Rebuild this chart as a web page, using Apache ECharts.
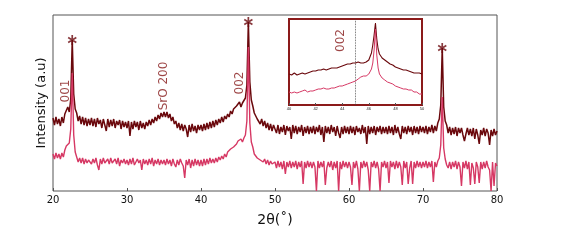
<!DOCTYPE html>
<html><head><meta charset="utf-8">
<script src="https://cdn.jsdelivr.net/npm/echarts@6/dist/echarts.min.js"></script>
<style>html,body{margin:0;padding:0;background:#fff}#c{width:562px;height:241px}</style>
</head><body><div id="c"></div>
<script>
// Main pattern: 2θ from 20 to 80, sampled every 0.2°
const mainStart = 20, mainStep = 0.2;
const darkPattern = [
 73,66,74,67,72,65,74,68,77,75,84,79,92,151,97,82,78,70,75,67,74,66,73,65,72,
 66,73,65,72,64,73,67,71,63,72,66,60,72,64,71,65,72,63,70,66,71,62,70,64,69,
 63,70,55,69,62,70,64,69,61,70,63,68,62,69,65,71,66,72,68,74,70,76,72,78,74,
 79,74,79,73,77,70,74,67,70,63,68,61,67,60,66,62,54,66,59,67,60,65,58,66,61,
 66,60,67,61,68,62,69,63,70,64,71,66,72,68,74,69,75,72,77,74,80,77,82,81,85,
 86,89,84,88,86,93,106,169,109,91,85,78,78,72,74,67,72,65,70,63,68,61,67,60,66,
 65,58,66,57,64,59,66,56,65,60,64,52,66,58,65,57,64,59,66,55,64,58,65,57,64,
 58,65,57,64,59,66,56,64,49,65,58,64,57,66,59,64,55,65,58,53,64,57,65,58,64,
 57,65,58,64,56,65,59,63,57,66,58,64,47,65,57,64,58,65,56,64,59,65,57,64,58,
 64,57,65,58,64,56,66,58,64,57,52,65,58,64,57,65,59,64,56,65,58,64,57,65,59,
 64,58,65,57,64,59,66,58,65,60,68,72,86,143,84,70,66,58,64,56,63,57,64,55,63,
 58,63,56,50,57,63,56,62,55,63,52,62,56,47,61,56,63,55,62,58,46,61,55,62,56,
 60];
const pinkPattern = [
 37,32,38,33,37,32,38,34,41,45,46,48,62,118,56,39,34,29,33,28,33,27,32,28,31,
 33,27,32,28,33,26,21,32,27,33,28,26,32,27,33,28,26,32,27,33,25,31,28,32,27,
 31,26,32,27,33,26,25,32,28,31,21,32,27,31,26,32,27,33,25,31,27,32,26,31,27,
 31,26,32,27,31,25,32,27,24,31,26,32,28,25,13,31,26,32,23,31,25,32,26,31,25,
 31,25,32,26,32,27,33,28,32,28,33,29,34,31,35,32,37,34,39,37,42,40,44,44,47,
 50,48,52,49,53,56,70,144,68,49,44,37,38,33,35,31,33,29,32,27,31,26,30,27,29,
 29,23,30,24,29,22,30,17,29,24,30,23,29,24,30,22,29,24,30,7,29,23,30,24,29,
 23,29,24,0,30,23,29,24,30,6,23,29,24,30,21,29,23,30,0,29,22,30,24,29,23,
 29,24,6,29,23,30,22,0,29,23,30,24,29,21,0,29,24,30,23,29,22,0,29,24,30,
 23,29,8,30,24,29,22,30,23,29,24,6,30,23,29,7,23,30,7,29,23,30,24,29,23,
 29,24,30,23,29,24,30,9,29,24,30,33,46,94,43,32,26,23,29,22,29,24,30,22,29,
 24,5,29,23,30,22,29,6,28,23,7,29,24,8,29,22,29,23,30,24,21,0,29,5,28,
 25];
// Peak markers (*)
const peakX = [22.6, 46.4, 72.6];
const peakY = [151, 169, 143];
// Inset: 2θ 40–50 every 0.1°
const insetStart = 40, insetStep = 0.1;
const darkInset = [
 31,32,30,31,32,31,30,32,31,32,
 32,33,31,33,32,34,33,32,34,33,
 34,33,35,34,35,34,36,35,35,36,
 36,35,37,36,37,38,37,38,38,39,
 39,39,40,40,41,41,41,42,42,42,
 42,43,43,43,42,42,42,42,43,44,
 45,47,52,60,70,82,66,56,51,49,
 47,46,45,44,43,42,41,41,40,39,
 38,38,37,37,36,36,35,35,35,34,
 34,34,33,33,32,33,32,31,32,31,
 31];
const pinkInset = [
 13,15,12,14,13,15,12,14,13,14,
 14,13,15,14,13,15,14,16,14,15,
 15,14,16,15,16,15,17,16,16,17,
 16,17,17,18,17,18,18,19,19,20,
 19,20,20,21,21,22,22,23,23,24,
 24,25,26,27,28,28,29,29,29,30,
 31,33,36,42,55,76,50,37,31,29,
 27,26,25,24,23,23,22,21,21,20,
 19,19,18,18,17,17,16,17,16,15,
 15,14,15,14,13,12,13,12,11,12,
 11];
const refLine = 45;
// Annotations (text, 2θ, height)
const mainNotes = [['001', 21.75, 100], ['SrO 200', 35.0, 105], ['002', 45.2, 108]];
const insetNotes = [['002', 43.9, 64.5]];

const DARK = '#6a080c', PINK = '#d63864', TXT = '#841616';
const r1 = v => Math.round(v * 10) / 10;
const pair = (arr, s, st) => arr.map((v, i) => [r1(s + i * st), v]);
const star = 'path://M-0.9,-5L0.9,-5L0.9,5L-0.9,5Z M3.88,-3.28L4.78,-1.72L-3.88,3.28L-4.78,1.72Z M4.78,1.72L3.88,3.28L-4.78,-1.72L-3.88,-3.28Z';
const noteSeries = (arr, ax) => ({
  type: 'scatter', xAxisIndex: ax, yAxisIndex: ax, silent: true, z: 10,
  symbol: 'circle', symbolSize: 1, itemStyle: {color: 'rgba(0,0,0,0)'},
  label: {show: true, position: 'inside', rotate: 90, color: TXT, fontSize: 12,
          fontFamily: 'DejaVu Sans', formatter: p => p.name},
  data: arr.map(a => ({name: a[0], value: [a[1], a[2]]}))
});

const chart = echarts.init(document.getElementById('c'), null, {renderer: 'canvas'});
chart.setOption({
  animation: false,
  backgroundColor: '#fff',
  grid: [
    {left: 53, top: 15, width: 444, height: 176, show: true, borderColor: '#555', borderWidth: 1, backgroundColor: 'transparent'},
    {left: 289, top: 19, width: 133, height: 86, show: true, borderColor: '#8b1a1a', borderWidth: 2, backgroundColor: '#fff'}
  ],
  xAxis: [
    {gridIndex: 0, type: 'value', min: 20, max: 80, interval: 10,
     axisLine: {show: false}, splitLine: {show: false},
     axisTick: {show: true, inside: true, length: 3, lineStyle: {color: '#555'}},
     axisLabel: {fontSize: 10, color: '#111', margin: 4, fontFamily: 'DejaVu Sans'},
     name: '2θ(˚)', nameLocation: 'middle', nameGap: 22,
     nameTextStyle: {fontSize: 14, color: '#111', fontFamily: 'DejaVu Sans'}},
    {gridIndex: 1, type: 'value', min: 40, max: 50, interval: 2,
     axisLine: {show: false}, splitLine: {show: false},
     axisTick: {show: true, inside: true, length: 2, lineStyle: {color: '#555'}},
     axisLabel: {fontSize: 4, color: '#222', margin: 2}}
  ],
  yAxis: [
    {gridIndex: 0, type: 'value', min: 0, max: 176,
     axisLine: {show: false}, axisTick: {show: false}, axisLabel: {show: false}, splitLine: {show: false},
     name: 'Intensity (a.u)', nameLocation: 'middle', nameGap: 5,
     nameTextStyle: {fontSize: 13, color: '#111', fontFamily: 'DejaVu Sans'}},
    {gridIndex: 1, type: 'value', min: 0, max: 86,
     axisLine: {show: false}, axisTick: {show: false}, axisLabel: {show: false}, splitLine: {show: false}}
  ],
  series: [
    {type: 'line', xAxisIndex: 0, yAxisIndex: 0, data: pair(darkPattern, mainStart, mainStep),
     showSymbol: false, lineStyle: {color: DARK, width: 1.5}, z: 2},
    {type: 'line', xAxisIndex: 0, yAxisIndex: 0, data: pair(pinkPattern, mainStart, mainStep),
     showSymbol: false, lineStyle: {color: PINK, width: 1.4}, z: 3},
    {type: 'scatter', xAxisIndex: 0, yAxisIndex: 0, data: peakX.map((x, i) => [x, peakY[i]]),
     symbol: star, symbolSize: [9, 10], itemStyle: {color: DARK}, z: 4},
    noteSeries(mainNotes, 0),
    {type: 'line', xAxisIndex: 1, yAxisIndex: 1, data: pair(darkInset, insetStart, insetStep),
     showSymbol: false, lineStyle: {color: DARK, width: 1.1}, z: 5,
     markLine: {symbol: 'none', silent: true, label: {show: false},
       lineStyle: {type: 'dotted', color: '#444', width: 0.8}, data: [{xAxis: refLine}]}},
    {type: 'line', xAxisIndex: 1, yAxisIndex: 1, data: pair(pinkInset, insetStart, insetStep),
     showSymbol: false, lineStyle: {color: PINK, width: 1}, z: 6},
    noteSeries(insetNotes, 1)
  ]
});
</script></body></html>
